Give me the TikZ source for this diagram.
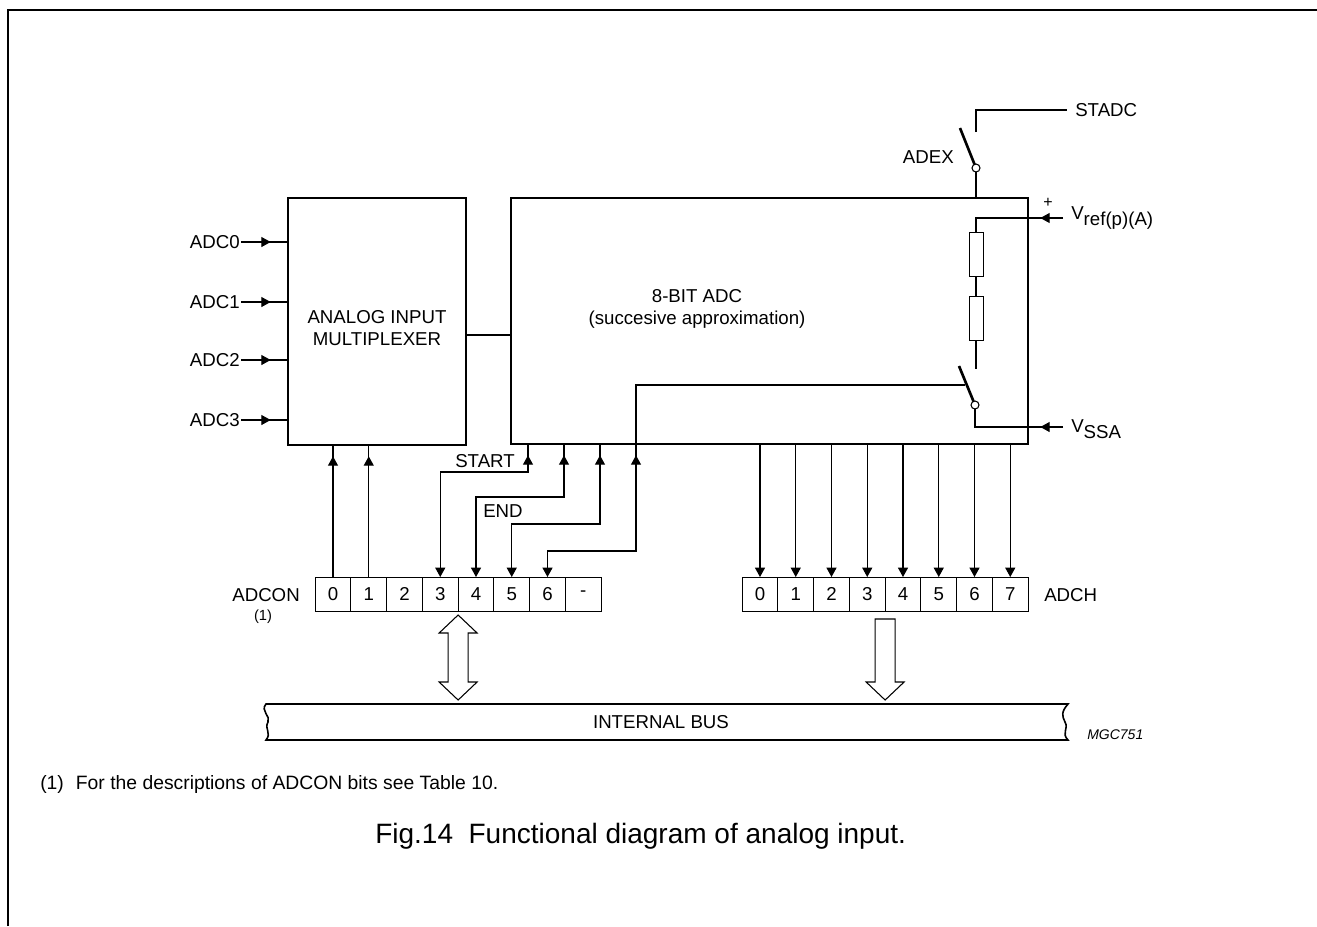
\documentclass[tikz,border=0pt]{standalone}
\usepackage{fontspec}
\setmainfont{Liberation Sans}
\usetikzlibrary{arrows.meta,decorations.markings}

\tikzset{
  tri/.tip={Triangle[length=7pt,width=7.5pt]},
  wire/.style={line width=0.8pt},
  blk/.style={draw, line width=1.6pt, inner sep=0pt, outer sep=0pt},
  blade/.style={line width=2pt},
  lbl/.style={inner sep=0.75pt, font=\fontsize{14}{16.5}\selectfont},
  cell/.style={draw, line width=0.75pt, minimum width=26.8pt, minimum height=25.5pt, inner sep=0pt, outer sep=0pt, font=\fontsize{14}{16.5}\selectfont},
  res/.style={draw, line width=0.75pt, minimum width=10.5pt, minimum height=33pt, inner sep=0pt, outer sep=0pt},
  pin/.style={draw, circle, line width=0.8pt, minimum size=6pt, inner sep=0pt, outer sep=0pt, fill=white},
  hollow/.style={line width=0.8pt, line join=miter},
  pintip/.style={postaction={decorate, decoration={markings, mark=at position #1 with {\arrow{tri}}}}},
  pintip/.default=-8.5pt
}

\begin{document}
\begin{tikzpicture}[x=0.75pt,y=0.75pt,yscale=-1,xscale=1]
\useasboundingbox (0,0) rectangle (1317,926);

%Straight Lines [frame]
\draw [line width=1.5pt] (8,926) -- (8,10) -- (1317,10) ;

%Shape: Rectangle [multiplexer]
\node [blk, minimum width=133.5pt, minimum height=185.25pt] (mux) at (377,321.5) {};
%Shape: Rectangle [adc]
\node [blk, minimum width=387.75pt, minimum height=184.5pt] (adc) at (769.5,321) {};
% Text Node
\node [lbl, align=center] (muxtxt) at (377,328) {ANALOG INPUT\\MULTIPLEXER};
% Text Node
\node [lbl, align=center] (adctxt) at (697,309) {8-BIT ADC\\(succesive approximation)};
%Straight Lines
\draw [wire] (mux.east |- 0,335) -- (adc.west |- 0,335) ;

%Analog inputs
\foreach \i/\y in {0/242,1/302,2/360,3/420}{
  \node [lbl, anchor=east] (adcin\i) at (241,\y) {ADC\i};
  \draw [wire, pintip=-13pt] (adcin\i.east) -- (mux.west |- adcin\i.east) ;
}

%Registers
\foreach \b [count=\k from 0] in {0,1,2,3,4,5,6,-}
  \node [cell] (con\k) at (333+35.75*\k,594) {\b};
\foreach \k in {0,...,7}
  \node [cell] (ch\k) at (760+35.75*\k,594) {\k};
% Text Node
\node [lbl, anchor=east] (conlbl) at (301,595) {ADCON};
% Text Node
\node [inner sep=0.75pt, font=\fontsize{11}{13}\selectfont] (connote) at (263,617) {(1)};
% Text Node
\node [lbl, anchor=west] (chlbl) at (1043,595) {ADCH};

%Control lines
\foreach \k in {0,1}
  \draw [wire, pintip] (con\k.north) -- (con\k.north |- mux.south) ;
\foreach \k/\px/\py in {3/528/472,4/564/497,5/600/524,6/636/551}
  \draw [wire, {tri}-, pintip] (con\k.north) |- (\px,\py) -- (adc.south -| \px,0) ;
% Text Node
\node [lbl, anchor=east] (startlbl) at (516,461) {START};
% Text Node
\node [lbl, anchor=west] (endlbl) at (482,511) {END};

%Result lines
\foreach \k in {0,...,7}
  \draw [wire, -{tri}] (ch\k.north |- adc.south) -- (ch\k.north) ;

%Switch ADEX
\node [pin] (adexc) at (976,168) {};
\coordinate (adexb) at (960,128);
\coordinate (adexw) at (976,132);
\coordinate (stadcin) at (1067,110);
\draw [blade] (adexc) -- (adexb) ;
\draw [wire] (adexc) -- (adexc |- adc.north) ;
\draw [wire] (adexw) |- (stadcin) ;
% Text Node
\node [lbl, anchor=west] (stadc) at (1074,110) {STADC};
% Text Node
\node [lbl, anchor=east] (adex) at (955,157) {ADEX};

%Resistor ladder
\node [res] (r1) at (976,254) {};
\node [res] (r2) at (976,318) {};
\coordinate (vrefin) at (1063,218);
\coordinate (rend) at (976,369);
\draw [wire, pintip=17pt] (vrefin) -| (r1.north) ;
\draw [wire] (r1.south) -- (r2.north) ;
\draw [wire] (r2.south) -- (rend) ;
% Text Node
\node [inner sep=0pt, font=\fontsize{12}{12}\selectfont] (plus) at (1048,203) {+};
% Text Node
\node [lbl, anchor=base west] (vref) at (1070,219) {V\raisebox{-5pt}{ref(p)(A)}};

%Switch VSSA
\node [pin] (vsw) at (975,405) {};
\coordinate (vswb) at (959,366);
\coordinate (vswin) at (965,385);
\coordinate (vssain) at (1063,427);
\draw [blade] (vsw) -- (vswb) ;
\draw [wire, pintip=17pt] (vssain) -| (vsw) ;
\draw [wire] (adc.south -| 636,0) |- (vswin) ;
% Text Node
\node [lbl, anchor=base west] (vssa) at (1070,432) {V\raisebox{-5pt}{SSA}};

%Shape: Double Arrow
\draw [hollow] (con3.south east) ++(0,4) -- ++(-19,18) -- ++(9,0) -- ++(0,49) -- ++(-9,0) -- ++(19,18) -- ++(19,-18) -- ++(-9,0) -- ++(0,-49) -- ++(9,0) -- cycle ;
%Shape: Down Arrow
\draw [hollow] (ch3.south east) ++(-10,8) -- ++(0,63) -- ++(-9,0) -- ++(19,18) -- ++(19,-18) -- ++(-9,0) -- ++(0,-63) -- cycle ;

%Shape: Bus
\draw [line width=1.2pt] (266,704) -- (1068,704) .. controls (1061,712) and (1062,716) .. (1065,722) .. controls (1069,729) and (1061,733) .. (1068,740) -- (266,740) .. controls (272,733) and (264,729) .. (268,722) .. controls (271,716) and (260,711) .. (266,704) -- cycle ;
% Text Node
\node [lbl] (bustxt) at (661,722) {INTERNAL BUS};
% Text Node
\node [anchor=west, inner sep=0.75pt, font=\fontsize{10.5}{12}\selectfont\itshape] (mgc) at (1086,735) {MGC751};

% Text Node
\node [anchor=west, inner sep=0.75pt, font=\fontsize{14.5}{17}\selectfont] (note) at (39,784) {(1)\hspace{9pt}For the descriptions of ADCON bits see Table 10.};
% Text Node
\node [anchor=west, inner sep=0.75pt, font=\fontsize{21}{25}\selectfont] (cap) at (374,836) {Fig.14~~Functional diagram of analog input.};

\end{tikzpicture}
\end{document}
